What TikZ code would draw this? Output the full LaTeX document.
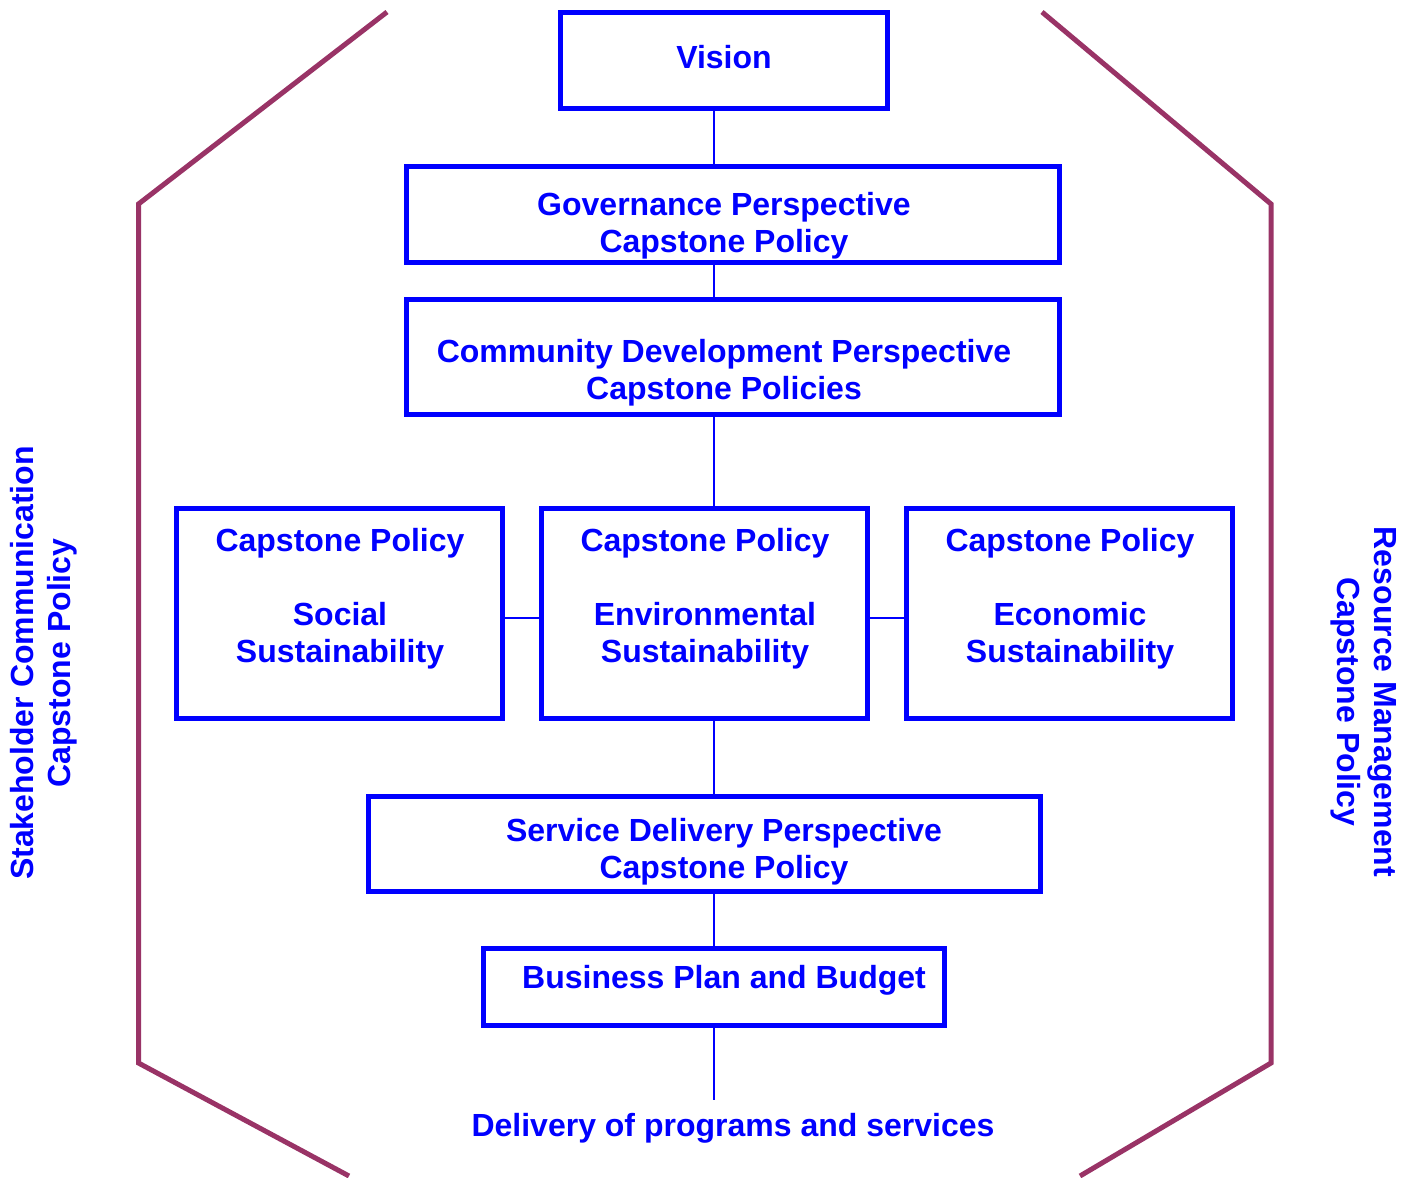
\documentclass[tikz,border=0pt]{standalone}
\usepackage{fontspec}
\setmainfont{Liberation Sans}
\definecolor{policyblue}{RGB}{0,0,255}
\definecolor{framepurple}{RGB}{153,51,102}

\begin{document}
\begin{tikzpicture}[x=0.5pt, y=-0.5pt]
    % Styles
    \tikzstyle{box} = [rectangle, draw=policyblue, line width=2.5pt, inner sep=0pt]
    \tikzstyle{btext} = [text=policyblue, font=\bfseries\fontsize{16}{18.5}\selectfont, align=center, inner sep=0pt]
    \tikzstyle{link} = [draw=policyblue, line width=0.75pt]
    \tikzstyle{frame} = [draw=framepurple, line width=2.5pt]

    \useasboundingbox (0,0) rectangle (1414,1178);

    % Boxes
    \node[box, minimum width=163.5pt, minimum height=48pt] (vision) at (724,60.5) {};
    \node[box, minimum width=326.5pt, minimum height=48pt] (gov) at (733,214.5) {};
    \node[box, minimum width=326.5pt, minimum height=57.5pt] (comm) at (733,357) {};
    \node[box, minimum width=163pt, minimum height=105pt] (social) at (339.5,613.5) {};
    \node[box, minimum width=163pt, minimum height=105pt] (env) at (704.5,613.5) {};
    \node[box, minimum width=163pt, minimum height=105pt] (econ) at (1069.5,613.5) {};
    \node[box, minimum width=336pt, minimum height=47.5pt] (service) at (704.5,844) {};
    \node[box, minimum width=230.5pt, minimum height=38.5pt] (bplan) at (714,987) {};
    \coordinate (out) at (714,1100);

    % Texts
    \node[btext] (visiontxt) at (724,57) {Vision};
    \node[btext] (govtxt) at (724,226) {Governance Perspective\\Capstone Policy};
    \node[btext] (commtxt) at (724,373) {Community Development Perspective\\Capstone Policies};
    \node[btext] (socialtxt) at (340,599) {Capstone Policy\\[18.5pt]Social\\Sustainability};
    \node[btext] (envtxt) at (705,599) {Capstone Policy\\[18.5pt]Environmental\\Sustainability};
    \node[btext] (econtxt) at (1070,599) {Capstone Policy\\[18.5pt]Economic\\Sustainability};
    \node[btext] (servicetxt) at (724,852) {Service Delivery Perspective\\Capstone Policy};
    \node[btext] (bplantxt) at (724,980) {Business Plan and Budget};
    \node[btext] (delivery) at (733,1128) {Delivery of programs and services};
    \node[btext, rotate=90] (stakeholder) at (44,663) {Stakeholder Communication\\Capstone Policy};
    \node[btext, rotate=-90] (resource) at (1363.5,702) {Resource Management\\Capstone Policy};

    % Connectors
    \draw[link] (vision.south -| bplan) -- (gov.north -| bplan);
    \draw[link] (gov.south -| bplan) -- (comm.north -| bplan);
    \draw[link] (comm.south -| bplan) -- (env.north -| bplan);
    \draw[link] (env.south -| bplan) -- (service.north -| bplan);
    \draw[link] (service.south -| bplan) -- (bplan.north);
    \draw[link] (bplan.south) -- (out);
    \draw[link] ([yshift=-2.25pt]social.east) -- ([yshift=-2.25pt]env.west);
    \draw[link] ([yshift=-2.25pt]env.east) -- ([yshift=-2.25pt]econ.west);

    % Outer frame
    \draw[frame] (387,12) -- (138.5,204) -- (138.5,1063) -- (349,1176);
    \draw[frame] (1042,12) -- (1271,204) -- (1271,1063) -- (1080,1176);
\end{tikzpicture}
\end{document}
